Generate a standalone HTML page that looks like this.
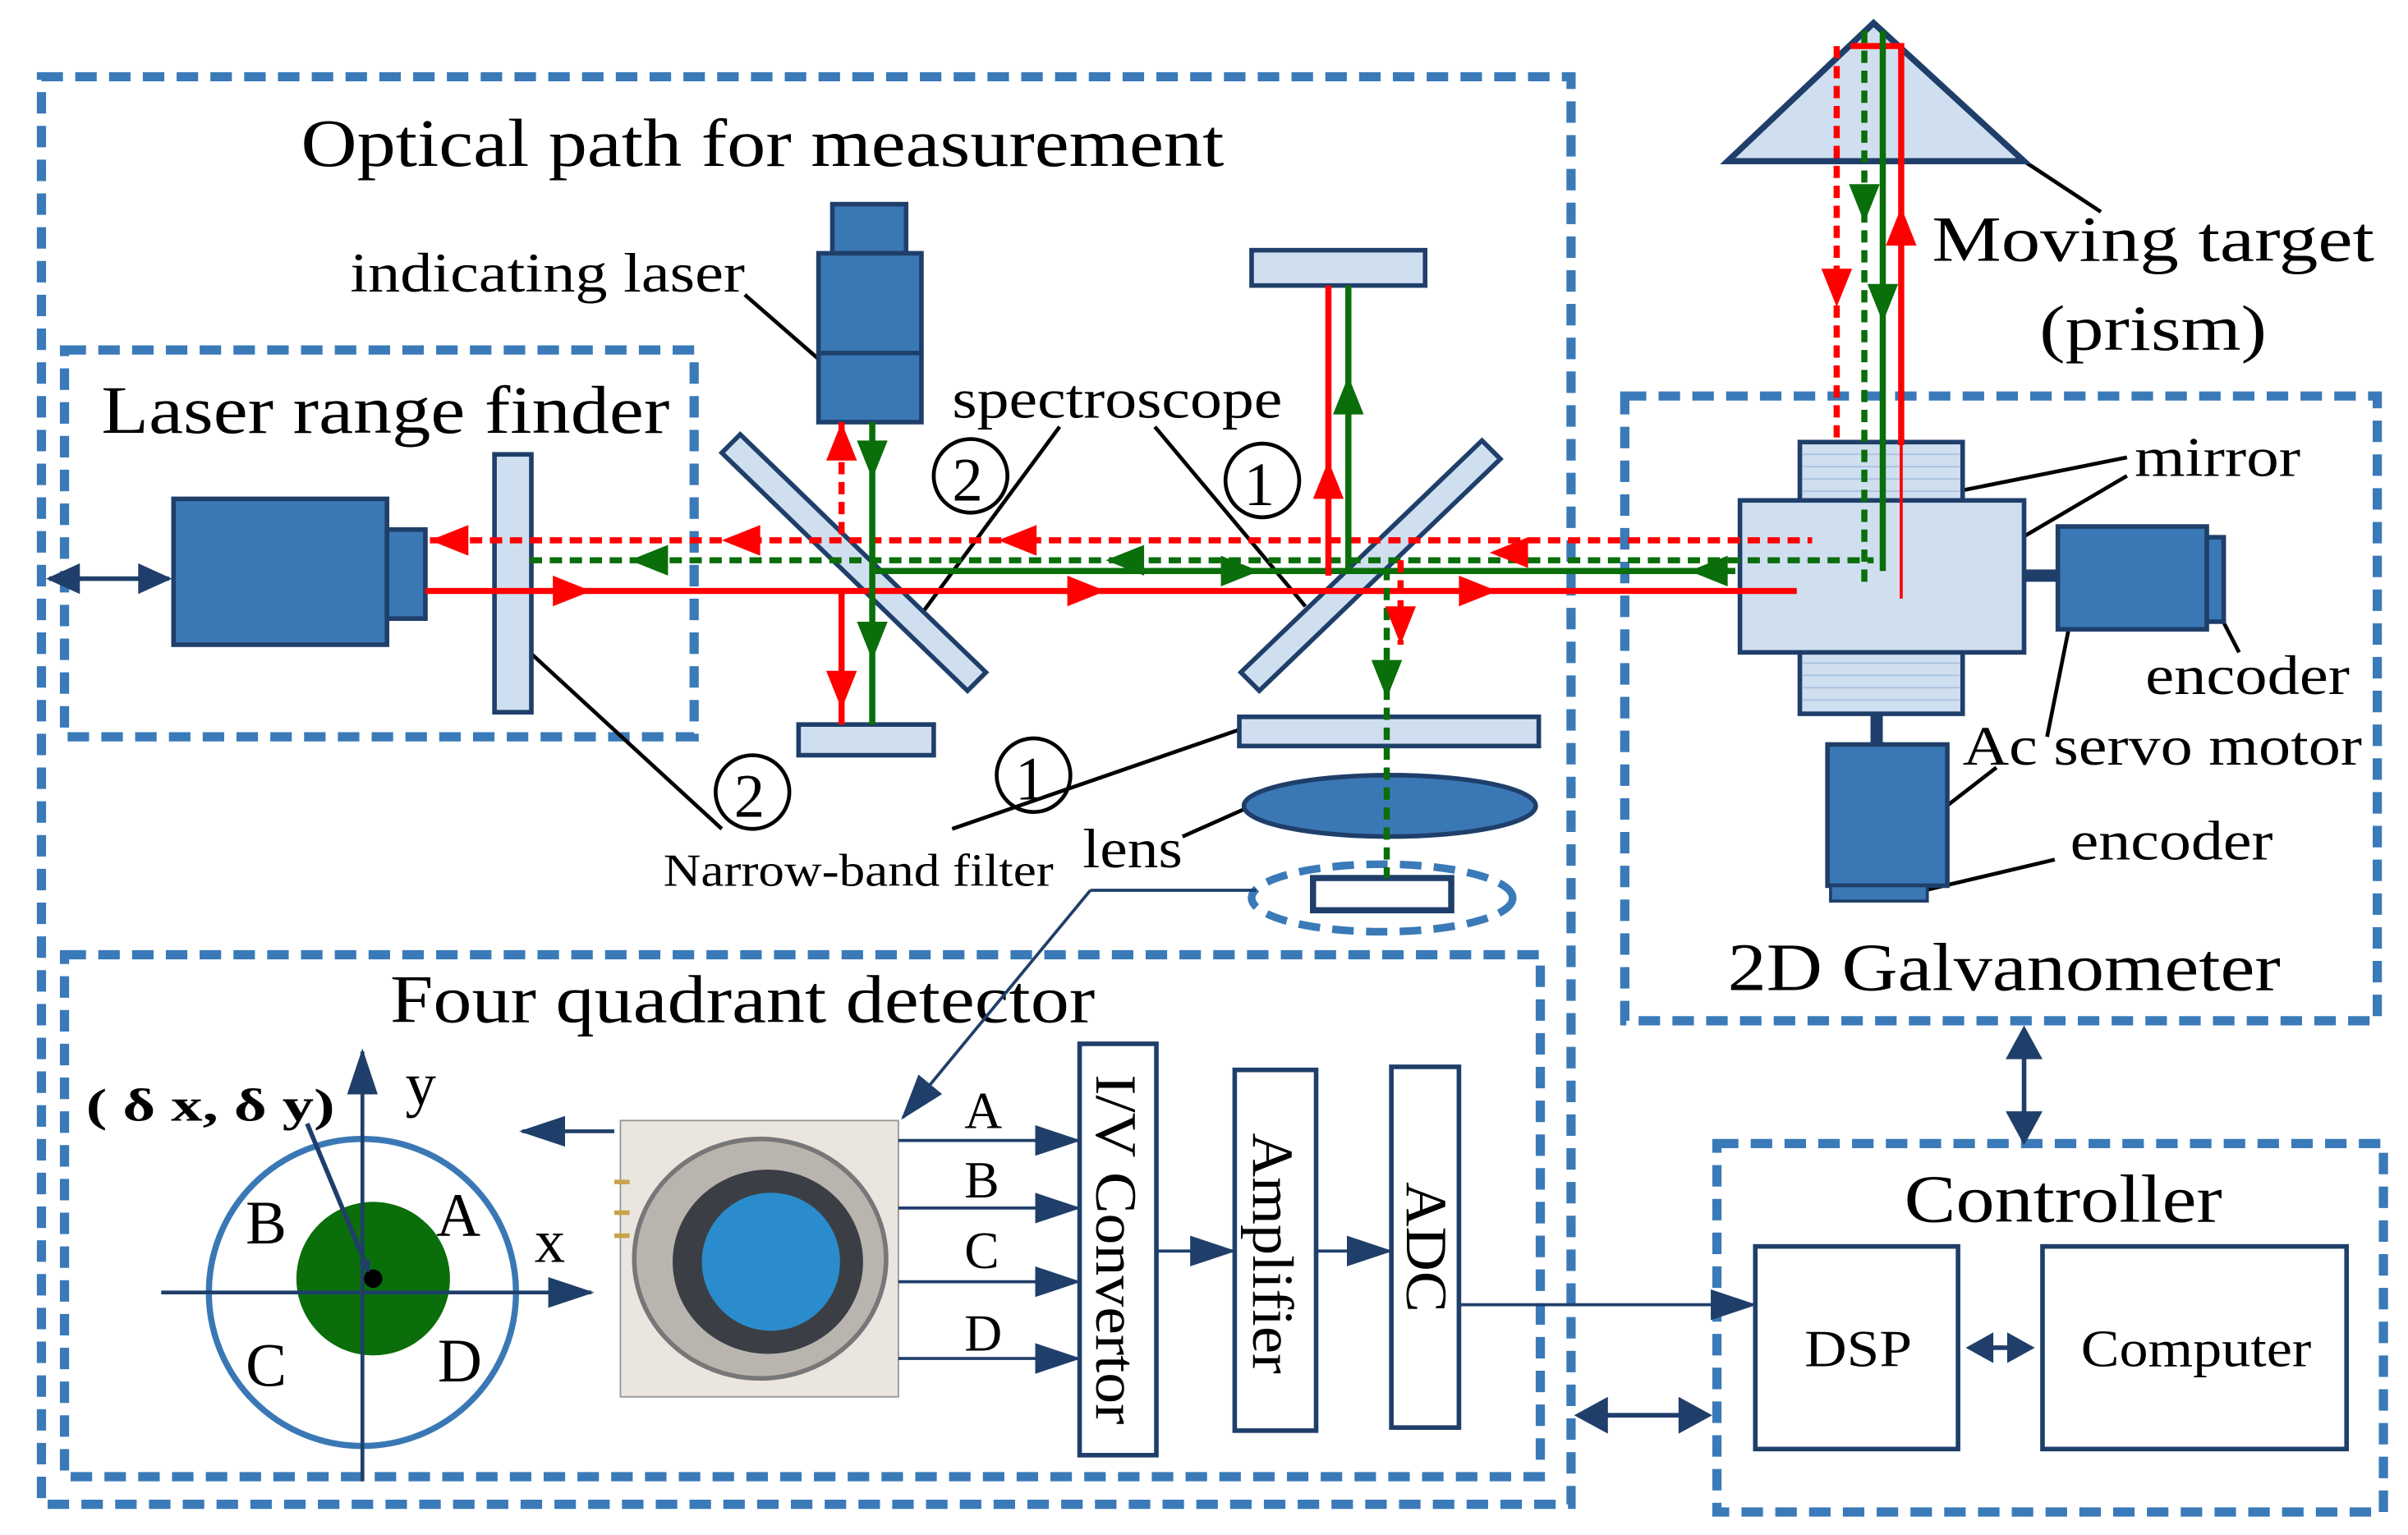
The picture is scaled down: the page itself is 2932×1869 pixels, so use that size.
<!DOCTYPE html>
<html><head><meta charset="utf-8"><style>
html,body{margin:0;padding:0;background:#fff}
svg{display:block}
text{font-family:"Liberation Serif",serif;fill:#000}
</style></head><body>
<svg width="2932" height="1869" viewBox="0 0 1568 1000" preserveAspectRatio="none" xmlns="http://www.w3.org/2000/svg">
<defs>
<marker id="ab" markerWidth="8" markerHeight="8" refX="7" refY="4" orient="auto" markerUnits="userSpaceOnUse"><path d="M0,0 L8,4 L0,8z" fill="#1f3f6a"/></marker>
<marker id="abL" markerWidth="30" markerHeight="20" refX="28" refY="10" orient="auto" markerUnits="userSpaceOnUse"><path d="M0,0 L30,10 L0,20z" fill="#1f3f6a"/></marker>
</defs>
<g fill="none" stroke="#3a7ab8" stroke-width="6" stroke-dasharray="14,8">
<rect x="27" y="50" width="996" height="930"/>
<rect x="42" y="228" width="410" height="252"/>
<rect x="1058" y="258" width="490" height="407"/>
<rect x="42" y="622" width="961" height="340"/>
<rect x="1118" y="745" width="434" height="240"/>
<ellipse cx="900" cy="585" rx="85" ry="22" stroke-width="5"/>
</g>
<g lengthAdjust="spacingAndGlyphs">
<text x="196" y="108" font-size="44" textLength="601" lengthAdjust="spacingAndGlyphs">Optical path for measurement</text>
<text x="66" y="282" font-size="44" textLength="370" lengthAdjust="spacingAndGlyphs">Laser range finder</text>
<text x="1258" y="170" font-size="42" textLength="288" lengthAdjust="spacingAndGlyphs">Moving target</text>
<text x="1328" y="228" font-size="42" textLength="148" lengthAdjust="spacingAndGlyphs">(prism)</text>
<text x="228" y="190" font-size="36" textLength="257" lengthAdjust="spacingAndGlyphs">indicating laser</text>
<text x="620" y="272" font-size="36" textLength="215" lengthAdjust="spacingAndGlyphs">spectroscope</text>
<text x="1390" y="310" font-size="36" textLength="108" lengthAdjust="spacingAndGlyphs">mirror</text>
<text x="1397" y="452" font-size="36" textLength="133" lengthAdjust="spacingAndGlyphs">encoder</text>
<text x="1278" y="498" font-size="36" textLength="260" lengthAdjust="spacingAndGlyphs">Ac servo motor</text>
<text x="1348" y="560" font-size="36" textLength="132" lengthAdjust="spacingAndGlyphs">encoder</text>
<text x="1125" y="645" font-size="44" textLength="360" lengthAdjust="spacingAndGlyphs">2D Galvanometer</text>
<text x="254" y="666" font-size="44" textLength="459" lengthAdjust="spacingAndGlyphs">Four quadrant detector</text>
<text x="1240" y="796" font-size="44" textLength="207" lengthAdjust="spacingAndGlyphs">Controller</text>
<text x="432" y="577" font-size="30" textLength="254" lengthAdjust="spacingAndGlyphs">Narrow-band filter</text>
<text x="705" y="565" font-size="36" textLength="65" lengthAdjust="spacingAndGlyphs">lens</text>
</g>
<g fill="none" stroke="#000" stroke-width="2.5"><circle cx="632" cy="310" r="24"/><circle cx="822" cy="313" r="24"/><circle cx="490" cy="516" r="24"/><circle cx="673" cy="505" r="24"/></g>
<text x="620" y="326" font-size="40">2</text><text x="810" y="329" font-size="40">1</text><text x="478" y="532" font-size="40">2</text><text x="661" y="521" font-size="40">1</text>
<g stroke="#000" stroke-width="2.5" fill="none">
<line x1="485" y1="192" x2="540" y2="240"/>
<line x1="690" y1="278" x2="600" y2="400"/>
<line x1="752" y1="278" x2="850" y2="395"/>
<line x1="345" y1="425" x2="470" y2="540"/>
<line x1="620" y1="540" x2="808" y2="475"/>
<line x1="770" y1="545" x2="815" y2="525"/>
<line x1="1318" y1="105" x2="1368" y2="138"/>
<line x1="1385" y1="298" x2="1265" y2="322"/>
<line x1="1385" y1="310" x2="1300" y2="360"/>
<line x1="1440" y1="390" x2="1458" y2="425"/>
<line x1="1350" y1="395" x2="1333" y2="480"/>
<line x1="1300" y1="500" x2="1238" y2="548"/>
<line x1="1338" y1="560" x2="1245" y2="582"/>
</g>
<polygon points="1125,105 1318,105 1220,15" fill="#d0dff0" stroke="#1f3f6a" stroke-width="4"/>
<rect x="113" y="325" width="139" height="95" fill="#3a78b5" stroke="#1f3f6a" stroke-width="3"/>
<rect x="252" y="345" width="25" height="58" fill="#3a78b5" stroke="#1f3f6a" stroke-width="3"/>
<rect x="322" y="296" width="24" height="168" fill="#d0dff0" stroke="#1f3f6a" stroke-width="3"/>
<line x1="32" y1="377" x2="110" y2="377" stroke="#1f3f6a" stroke-width="3"/>
<path d="M30,377 L52,367 L52,387z M112,377 L90,367 L90,387z" fill="#1f3f6a"/>
<rect x="542" y="133" width="48" height="32" fill="#3a78b5" stroke="#1f3f6a" stroke-width="3"/>
<rect x="533" y="165" width="67" height="110" fill="#3a78b5" stroke="#1f3f6a" stroke-width="3"/>
<line x1="533" y1="230" x2="600" y2="230" stroke="#1f3f6a" stroke-width="3"/>
<g fill="#d0dff0" stroke="#1f3f6a" stroke-width="3">
<polygon points="470,295 482,283 642,438 630,450"/>
<polygon points="965,287 977,299 820,450 808,438"/>
<rect x="520" y="472" width="88" height="20"/>
<rect x="815" y="163" width="113" height="23"/>
<rect x="807" y="467" width="195" height="19"/>
<ellipse cx="905" cy="525" rx="95" ry="20" fill="#3a78b5"/>
<rect x="855" y="572" width="90" height="21" fill="#fff" stroke-width="4"/>
</g>
<rect x="1172" y="288" width="106" height="177" fill="#d0dff0" stroke="#1f3f6a" stroke-width="3"/>
<rect x="1133" y="326" width="185" height="99" fill="#d0dff0" stroke="#1f3f6a" stroke-width="3"/>
<g stroke="#a9c2e0" stroke-width="1">
<line x1="1174" y1="296" x2="1276" y2="296"/><line x1="1174" y1="304" x2="1276" y2="304"/><line x1="1174" y1="312" x2="1276" y2="312"/><line x1="1174" y1="320" x2="1276" y2="320"/>
<line x1="1174" y1="432" x2="1276" y2="432"/><line x1="1174" y1="440" x2="1276" y2="440"/><line x1="1174" y1="448" x2="1276" y2="448"/><line x1="1174" y1="456" x2="1276" y2="456"/>
</g>
<rect x="1318" y="371" width="22" height="8" fill="#1f3f6a"/>
<rect x="1340" y="343" width="97" height="67" fill="#3a78b5" stroke="#1f3f6a" stroke-width="3"/>
<rect x="1437" y="350" width="11" height="55" fill="#3a78b5" stroke="#1f3f6a" stroke-width="3"/>
<rect x="1218" y="465" width="8" height="20" fill="#1f3f6a"/>
<rect x="1190" y="485" width="78" height="92" fill="#3a78b5" stroke="#1f3f6a" stroke-width="3"/>
<rect x="1192" y="577" width="63" height="10" fill="#3a78b5" stroke="#1f3f6a" stroke-width="2"/>
<g fill="none" stroke-width="4">
<line x1="277" y1="385" x2="1170" y2="385" stroke="#f00"/>
<line x1="570" y1="372" x2="1130" y2="372" stroke="#0a6e0a"/>
<line x1="280" y1="352" x2="1180" y2="352" stroke="#f00" stroke-dasharray="8,5"/>
<line x1="345" y1="365" x2="1220" y2="365" stroke="#0a6e0a" stroke-dasharray="8,5"/>
<line x1="865" y1="186" x2="865" y2="375" stroke="#f00"/>
<line x1="878" y1="186" x2="878" y2="372" stroke="#0a6e0a"/>
<line x1="548" y1="275" x2="548" y2="350" stroke="#f00" stroke-dasharray="8,5"/>
<line x1="548" y1="385" x2="548" y2="472" stroke="#f00"/>
<line x1="568" y1="275" x2="568" y2="472" stroke="#0a6e0a"/>
<line x1="903" y1="370" x2="903" y2="572" stroke="#0a6e0a" stroke-dasharray="8,5"/>
<line x1="912" y1="365" x2="912" y2="420" stroke="#f00" stroke-dasharray="8,5"/>
<polyline points="1238,290 1238,30 1205,30" stroke="#f00"/>
<line x1="1196" y1="30" x2="1196" y2="290" stroke="#f00" stroke-dasharray="8,5"/>
<line x1="1214" y1="20" x2="1214" y2="380" stroke="#0a6e0a" stroke-dasharray="8,5"/>
<line x1="1226" y1="20" x2="1226" y2="372" stroke="#0a6e0a"/>
<line x1="1238" y1="290" x2="1238" y2="390" stroke="#f00" stroke-width="2"/>
</g>
<g>
<path d="M385,385 l-25,-10 v20z M720,385 l-25,-10 v20z M975,385 l-25,-10 v20z" fill="#f00"/>
<path d="M280,352 l25,-10 v20z M470,352 l25,-10 v20z M650,352 l25,-10 v20z M970,360 l25,-10 v20z" fill="#f00"/>
<path d="M820,372 l-25,-10 v20z M1100,372 l25,-10 v20z M720,365 l25,-10 v20z M410,365 l25,-10 v20z" fill="#0a6e0a"/>
<path d="M865,300 l-10,25 h20z M548,275 l-10,25 h20z M548,462 l-10,-25 h20z M912,420 l-10,-25 h20z M1238,135 l-10,25 h20z M1196,200 l-10,-25 h20z" fill="#f00"/>
<path d="M878,245 l-10,25 h20z M568,312 l-10,-25 h20z M568,430 l-10,-25 h20z M903,455 l-10,-25 h20z M1214,145 l-10,-25 h20z M1226,210 l-10,-25 h20z" fill="#0a6e0a"/>
</g>
<circle cx="236" cy="842" r="100" fill="none" stroke="#3a78b5" stroke-width="4"/>
<circle cx="243" cy="833" r="50" fill="#0a6e0a"/>
<line x1="105" y1="842" x2="385" y2="842" stroke="#1f3f6a" stroke-width="2.5" marker-end="url(#abL)"/>
<line x1="236" y1="965" x2="236" y2="685" stroke="#1f3f6a" stroke-width="2.5" marker-end="url(#abL)"/>
<circle cx="243" cy="833" r="6" fill="#000"/>
<line x1="200" y1="732" x2="240" y2="828" stroke="#1f3f6a" stroke-width="3" marker-end="url(#ab)"/>
<text x="56" y="730" font-size="30" font-weight="bold" textLength="162" lengthAdjust="spacingAndGlyphs">( δ x,  δ y)</text>
<text x="264" y="720" font-size="40">y</text>
<text x="348" y="822" font-size="40">x</text>
<text x="160" y="810" font-size="40">B</text>
<text x="284" y="805" font-size="40">A</text>
<text x="160" y="903" font-size="40">C</text>
<text x="285" y="900" font-size="40">D</text>
<line x1="400" y1="737" x2="340" y2="737" stroke="#1f3f6a" stroke-width="2.5" marker-end="url(#abL)"/>
<rect x="404" y="730" width="181" height="180" fill="#eae6df" stroke="#999" stroke-width="1"/>
<ellipse cx="495" cy="820" rx="82" ry="78" fill="#b9b5ae" stroke="#777" stroke-width="3"/>
<ellipse cx="500" cy="822" rx="62" ry="60" fill="#3b3f45"/>
<ellipse cx="502" cy="822" rx="45" ry="45" fill="#2a8ccc"/>
<path d="M410,770 l-10,0 M410,790 l-10,0 M410,805 l-10,0" stroke="#c9a34b" stroke-width="3"/>
<line x1="818" y1="580" x2="710" y2="580" stroke="#1f3f6a" stroke-width="2"/>
<line x1="710" y1="580" x2="588" y2="728" stroke="#1f3f6a" stroke-width="2" marker-end="url(#abL)"/>
<g stroke="#1f3f6a" stroke-width="2" marker-end="url(#abL)">
<line x1="585" y1="743" x2="702" y2="743"/>
<line x1="585" y1="787" x2="702" y2="787"/>
<line x1="585" y1="835" x2="702" y2="835"/>
<line x1="585" y1="885" x2="702" y2="885"/>
<line x1="753" y1="815" x2="803" y2="815"/>
<line x1="857" y1="815" x2="905" y2="815"/>
<line x1="950" y1="850" x2="1142" y2="850"/>
</g>
<text x="628" y="735" font-size="34">A</text><text x="628" y="780" font-size="34">B</text>
<text x="628" y="826" font-size="34">C</text><text x="628" y="880" font-size="34">D</text>
<g fill="#fff" stroke="#1f3f6a" stroke-width="3">
<rect x="703" y="680" width="50" height="268"/>
<rect x="804" y="697" width="53" height="235"/>
<rect x="906" y="695" width="44" height="235"/>
<rect x="1143" y="812" width="132" height="132"/>
<rect x="1330" y="812" width="198" height="132"/>
</g>
<text transform="translate(714,700) rotate(90)" font-size="38" textLength="228" lengthAdjust="spacingAndGlyphs">I/V Convertor</text>
<text transform="translate(816,738) rotate(90)" font-size="38" textLength="157" lengthAdjust="spacingAndGlyphs">Amplifier</text>
<text transform="translate(916,770) rotate(90)" font-size="38" textLength="85" lengthAdjust="spacingAndGlyphs">ADC</text>
<text x="1175" y="890" font-size="34" textLength="70" lengthAdjust="spacingAndGlyphs">DSP</text>
<text x="1355" y="890" font-size="34" textLength="150" lengthAdjust="spacingAndGlyphs">Computer</text>
<g stroke="#1f3f6a" stroke-width="3">
<line x1="1290" y1="878" x2="1315" y2="878"/>
<line x1="1042" y1="922" x2="1095" y2="922"/>
<line x1="1318" y1="685" x2="1318" y2="728"/>
</g>
<path d="M1280,878 l18,-10 v20z M1325,878 l-18,-10 v20z M1025,922 l22,-12 v24z M1115,922 l-22,-12 v24z M1318,668 l-12,22 h24z M1318,746 l-12,-22 h24z" fill="#1f3f6a"/>
</svg>
</body></html>
